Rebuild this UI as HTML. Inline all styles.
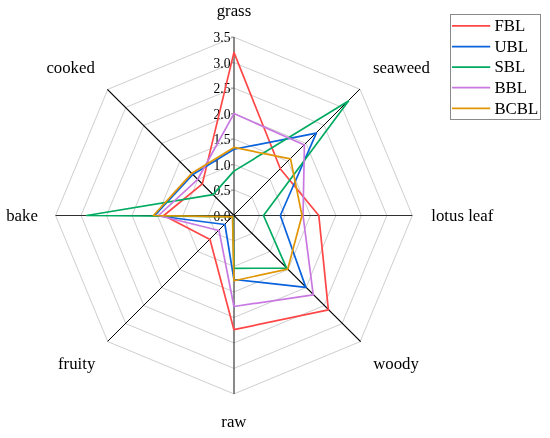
<!DOCTYPE html>
<html><head><meta charset="utf-8"><title>Radar chart</title>
<style>
html,body{margin:0;padding:0;background:#fff}
body{width:550px;height:438px;overflow:hidden}
svg{display:block}
text{font-family:"Liberation Serif","Times New Roman",serif;fill:#000}
</style></head><body>
<svg xmlns="http://www.w3.org/2000/svg" width="550" height="438" viewBox="0 0 550 438">
<rect width="550" height="438" fill="#ffffff"/>
<g fill="none" stroke="#c2c2c2" stroke-width="0.8">
<polygon points="233.95,190.01 251.97,197.48 259.44,215.50 251.97,233.52 233.95,240.99 215.93,233.52 208.46,215.50 215.93,197.48"/>
<polygon points="233.95,164.53 269.99,179.46 284.92,215.50 269.99,251.54 233.95,266.47 197.91,251.54 182.98,215.50 197.91,179.46"/>
<polygon points="233.95,139.04 288.01,161.44 310.41,215.50 288.01,269.56 233.95,291.96 179.89,269.56 157.49,215.50 179.89,161.44"/>
<polygon points="233.95,113.56 306.03,143.42 335.89,215.50 306.03,287.58 233.95,317.44 161.87,287.58 132.01,215.50 161.87,143.42"/>
<polygon points="233.95,88.07 324.06,125.39 361.38,215.50 324.06,305.61 233.95,342.93 143.84,305.61 106.52,215.50 143.84,125.39"/>
<polygon points="233.95,62.59 342.08,107.37 386.86,215.50 342.08,323.63 233.95,368.41 125.82,323.63 81.04,215.50 125.82,107.37"/>
<polygon points="233.95,37.10 360.10,89.35 412.35,215.50 360.10,341.65 233.95,393.90 107.80,341.65 55.55,215.50 107.80,89.35"/>
</g>
<g stroke-linecap="butt">
<line x1="234" y1="37.10" x2="234" y2="393.90" stroke="#141414" stroke-width="1"/>
<line x1="55.55" y1="215.5" x2="412.35" y2="215.5" stroke="#303030" stroke-width="1"/>
<line x1="107.35" y1="89.35" x2="360.65" y2="341.65" stroke="#000" stroke-width="1.2"/>
<line x1="107.60" y1="341.40" x2="359.90" y2="89.10" stroke="#000" stroke-width="1.0"/>
</g>
<g stroke="#777" stroke-width="0.8">
<line x1="230.95" y1="215.50" x2="233.95" y2="215.50"/>
<line x1="230.95" y1="190.01" x2="233.95" y2="190.01"/>
<line x1="230.95" y1="164.53" x2="233.95" y2="164.53"/>
<line x1="230.95" y1="139.04" x2="233.95" y2="139.04"/>
<line x1="230.95" y1="113.56" x2="233.95" y2="113.56"/>
<line x1="230.95" y1="88.07" x2="233.95" y2="88.07"/>
<line x1="230.95" y1="62.59" x2="233.95" y2="62.59"/>
<line x1="230.95" y1="37.10" x2="233.95" y2="37.10"/>
</g>
<g font-size="13.6" text-anchor="end">
<text x="230.55" y="220.80">0.0</text>
<text x="230.55" y="195.31">0.5</text>
<text x="230.55" y="169.83">1.0</text>
<text x="230.55" y="144.34">1.5</text>
<text x="230.55" y="118.86">2.0</text>
<text x="230.55" y="93.37">2.5</text>
<text x="230.55" y="67.89">3.0</text>
<text x="230.55" y="42.40">3.5</text>
</g>
<g fill="none" stroke-width="1.7" stroke-linejoin="round">
<polygon points="233.95,52.39 280.44,169.01 318.82,215.50 328.38,309.93 233.95,329.68 209.98,239.47 163.86,215.50 202.34,183.89" stroke="#ff4646"/>
<polygon points="233.95,149.24 316.31,133.14 280.33,215.50 305.85,287.40 233.95,279.52 224.94,224.51 154.69,215.50 192.86,174.41" stroke="#0a62dc"/>
<polygon points="233.95,171.15 348.46,100.99 263.51,215.50 286.57,268.12 233.95,268.31 232.69,216.76 86.64,215.50 213.05,194.60" stroke="#00aa60"/>
<polygon points="233.95,113.56 304.41,145.04 303.02,215.50 313.24,294.79 233.95,306.48 218.99,230.46 158.51,215.50 197.73,179.28" stroke="#c878e0"/>
<polygon points="233.95,147.45 290.54,158.91 302.00,215.50 287.65,269.20 233.95,280.74 232.51,216.94 153.42,215.50 191.78,173.33" stroke="#e19605"/>
</g>
<g font-size="16.8">
<text x="216.7" y="15.8">grass</text>
<text x="373.1" y="73.0">seaweed</text>
<text x="431.3" y="220.9">lotus leaf</text>
<text x="373.2" y="368.7">woody</text>
<text x="221.3" y="426.9">raw</text>
<text x="58.0" y="368.6">fruity</text>
<text x="6.2" y="220.9">bake</text>
<text x="46.4" y="73.0">cooked</text>
</g>
<rect x="450.5" y="14.5" width="90" height="105" fill="#fff" stroke="#8a8a8a" stroke-width="1"/>
<g stroke-width="1.7">
<line x1="452" y1="25.9" x2="490.2" y2="25.9" stroke="#ff4646"/>
<line x1="452" y1="46.6" x2="490.2" y2="46.6" stroke="#0a62dc"/>
<line x1="452" y1="67.1" x2="490.2" y2="67.1" stroke="#00aa60"/>
<line x1="452" y1="87.7" x2="490.2" y2="87.7" stroke="#c878e0"/>
<line x1="452" y1="108.4" x2="490.2" y2="108.4" stroke="#e19605"/>
</g>
<g font-size="16.8">
<text x="494.4" y="31.1">FBL</text>
<text x="494.4" y="51.8">UBL</text>
<text x="494.4" y="72.3">SBL</text>
<text x="494.4" y="92.9">BBL</text>
<text x="494.4" y="113.6">BCBL</text>
</g>
</svg>
</body></html>
